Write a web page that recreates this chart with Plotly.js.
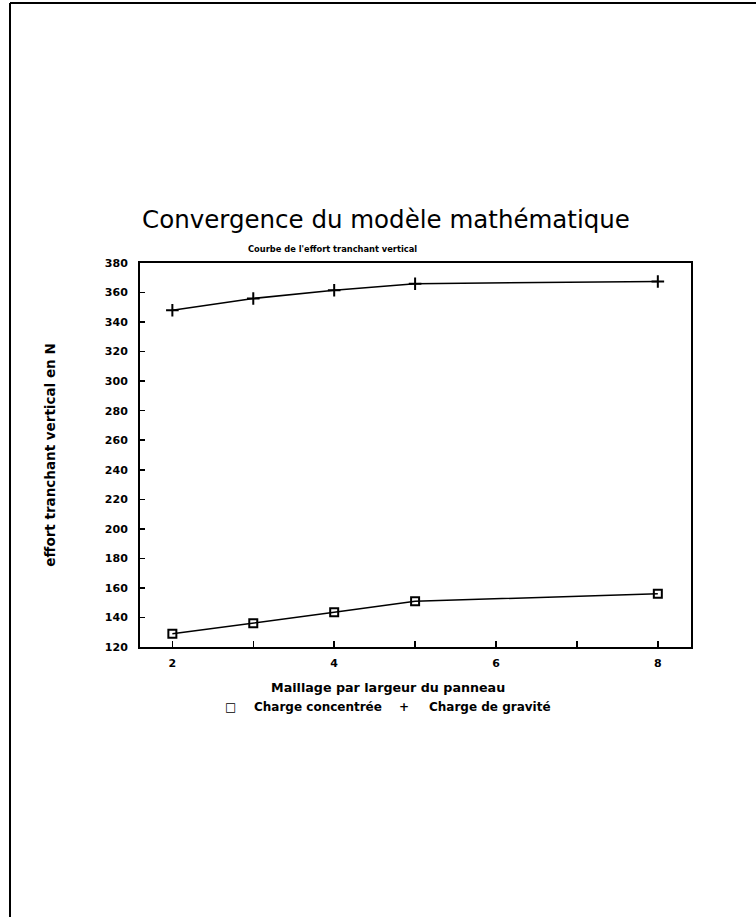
<!DOCTYPE html>
<html>
<head>
<meta charset="utf-8">
<script src="https://cdn.plot.ly/plotly-3.0.1.min.js"></script>
<style>html,body{margin:0;padding:0;background:#fff;}#chart{width:756px;height:917px;}</style>
</head>
<body>
<div id="chart"></div>
<script>
// Data
const maillage = [2, 3, 4, 5, 8];
const chargeConcentree = [129, 136, 143.5, 151, 156];
const chargeGravite = [348, 356, 361.5, 366, 367.5];
const xTickVals = [2, 3, 4, 5, 6, 7, 8];
const xTickText = ['2', '', '4', '', '6', '', '8'];
const yTickVals = [120, 140, 160, 180, 200, 220, 240, 260, 280, 300, 320, 340, 360, 380];
const seriesNames = ['Charge concentrée', 'Charge de gravité'];

const traces = [
  {
    x: maillage, y: chargeConcentree, name: seriesNames[0],
    type: 'scatter', mode: 'lines+markers',
    line: {color: '#000', width: 1.5},
    marker: {symbol: 'square-open', size: 8, color: '#000', line: {width: 2, color: '#000'}}
  },
  {
    x: maillage, y: chargeGravite, name: seriesNames[1],
    type: 'scatter', mode: 'lines+markers',
    line: {color: '#000', width: 1.5},
    marker: {symbol: 'cross-thin-open', size: 9, color: '#000', line: {width: 2, color: '#000'}}
  }
];

const FAM = 'DejaVu Sans, sans-serif';
const smallFont = {family: FAM, size: 12, color: '#000', weight: 'bold'};

// plot area in pixels: x 140..691, y 263..647
const px = v => (v - 140) / 551;
const py = v => (647 - v) / 384;

const layout = {
  width: 756, height: 917,
  margin: {l: 140, r: 65, t: 263, b: 270},
  paper_bgcolor: '#fff', plot_bgcolor: '#fff',
  showlegend: false,
  title: {
    text: 'Convergence du modèle mathématique',
    font: {family: FAM, size: 24.5, color: '#000'},
    x: 386 / 756, xanchor: 'center', xref: 'container',
    y: 1 - 219 / 917, yanchor: 'middle', yref: 'container'
  },
  xaxis: {
    range: [1.6, 8.41],
    tickmode: 'array', tickvals: xTickVals, ticktext: xTickText,
    ticks: 'inside', ticklen: 6, tickwidth: 1.5, tickcolor: '#000',
    showline: true, mirror: true, linecolor: '#000', linewidth: 2,
    showgrid: false, zeroline: false,
    tickfont: {family: FAM, size: 11, color: '#000', weight: 'bold'},
    ticklabelstandoff: 5
  },
  yaxis: {
    range: [120, 380],
    tickmode: 'array', tickvals: yTickVals,
    ticks: 'inside', ticklen: 5, tickwidth: 1.5, tickcolor: '#000',
    showline: true, mirror: true, linecolor: '#000', linewidth: 2,
    showgrid: false, zeroline: false,
    tickfont: {family: FAM, size: 11, color: '#000', weight: 'bold'},
    ticklabelstandoff: 8,
    title: {text: 'effort tranchant vertical en N', font: {family: FAM, size: 13.5, color: '#000', weight: 'bold'}, standoff: 46}
  },
  annotations: [
    {
      text: "Courbe de l'effort tranchant vertical",
      xref: 'paper', yref: 'paper', x: px(332), y: py(249),
      xanchor: 'center', yanchor: 'middle', showarrow: false,
      font: {family: FAM, size: 8.3, color: '#000', weight: 'bold'}
    },
    {
      text: 'Maillage par largeur du panneau',
      xref: 'paper', yref: 'paper', x: px(388), y: py(687),
      xanchor: 'center', yanchor: 'middle', showarrow: false,
      font: {family: FAM, size: 12.7, color: '#000', weight: 'bold'}
    },
    {
      text: '□', xref: 'paper', yref: 'paper', x: px(230), y: py(707),
      xanchor: 'center', yanchor: 'middle', showarrow: false, font: smallFont
    },
    {
      text: seriesNames[0], xref: 'paper', yref: 'paper', x: px(252), y: py(707),
      xanchor: 'left', yanchor: 'middle', showarrow: false, font: smallFont
    },
    {
      text: '+', xref: 'paper', yref: 'paper', x: px(404), y: py(707),
      xanchor: 'center', yanchor: 'middle', showarrow: false, font: smallFont
    },
    {
      text: seriesNames[1], xref: 'paper', yref: 'paper', x: px(427), y: py(707),
      xanchor: 'left', yanchor: 'middle', showarrow: false, font: smallFont
    }
  ],
  shapes: [
    {type: 'line', xref: 'paper', yref: 'paper', x0: px(10), x1: px(10),
     y0: py(3), y1: py(917), line: {color: '#000', width: 2}},
    {type: 'line', xref: 'paper', yref: 'paper', x0: px(10), x1: px(756),
     y0: py(3), y1: py(3), line: {color: '#000', width: 2}}
  ]
};

Plotly.newPlot('chart', traces, layout, {displayModeBar: false, staticPlot: true});
</script>
</body>
</html>
